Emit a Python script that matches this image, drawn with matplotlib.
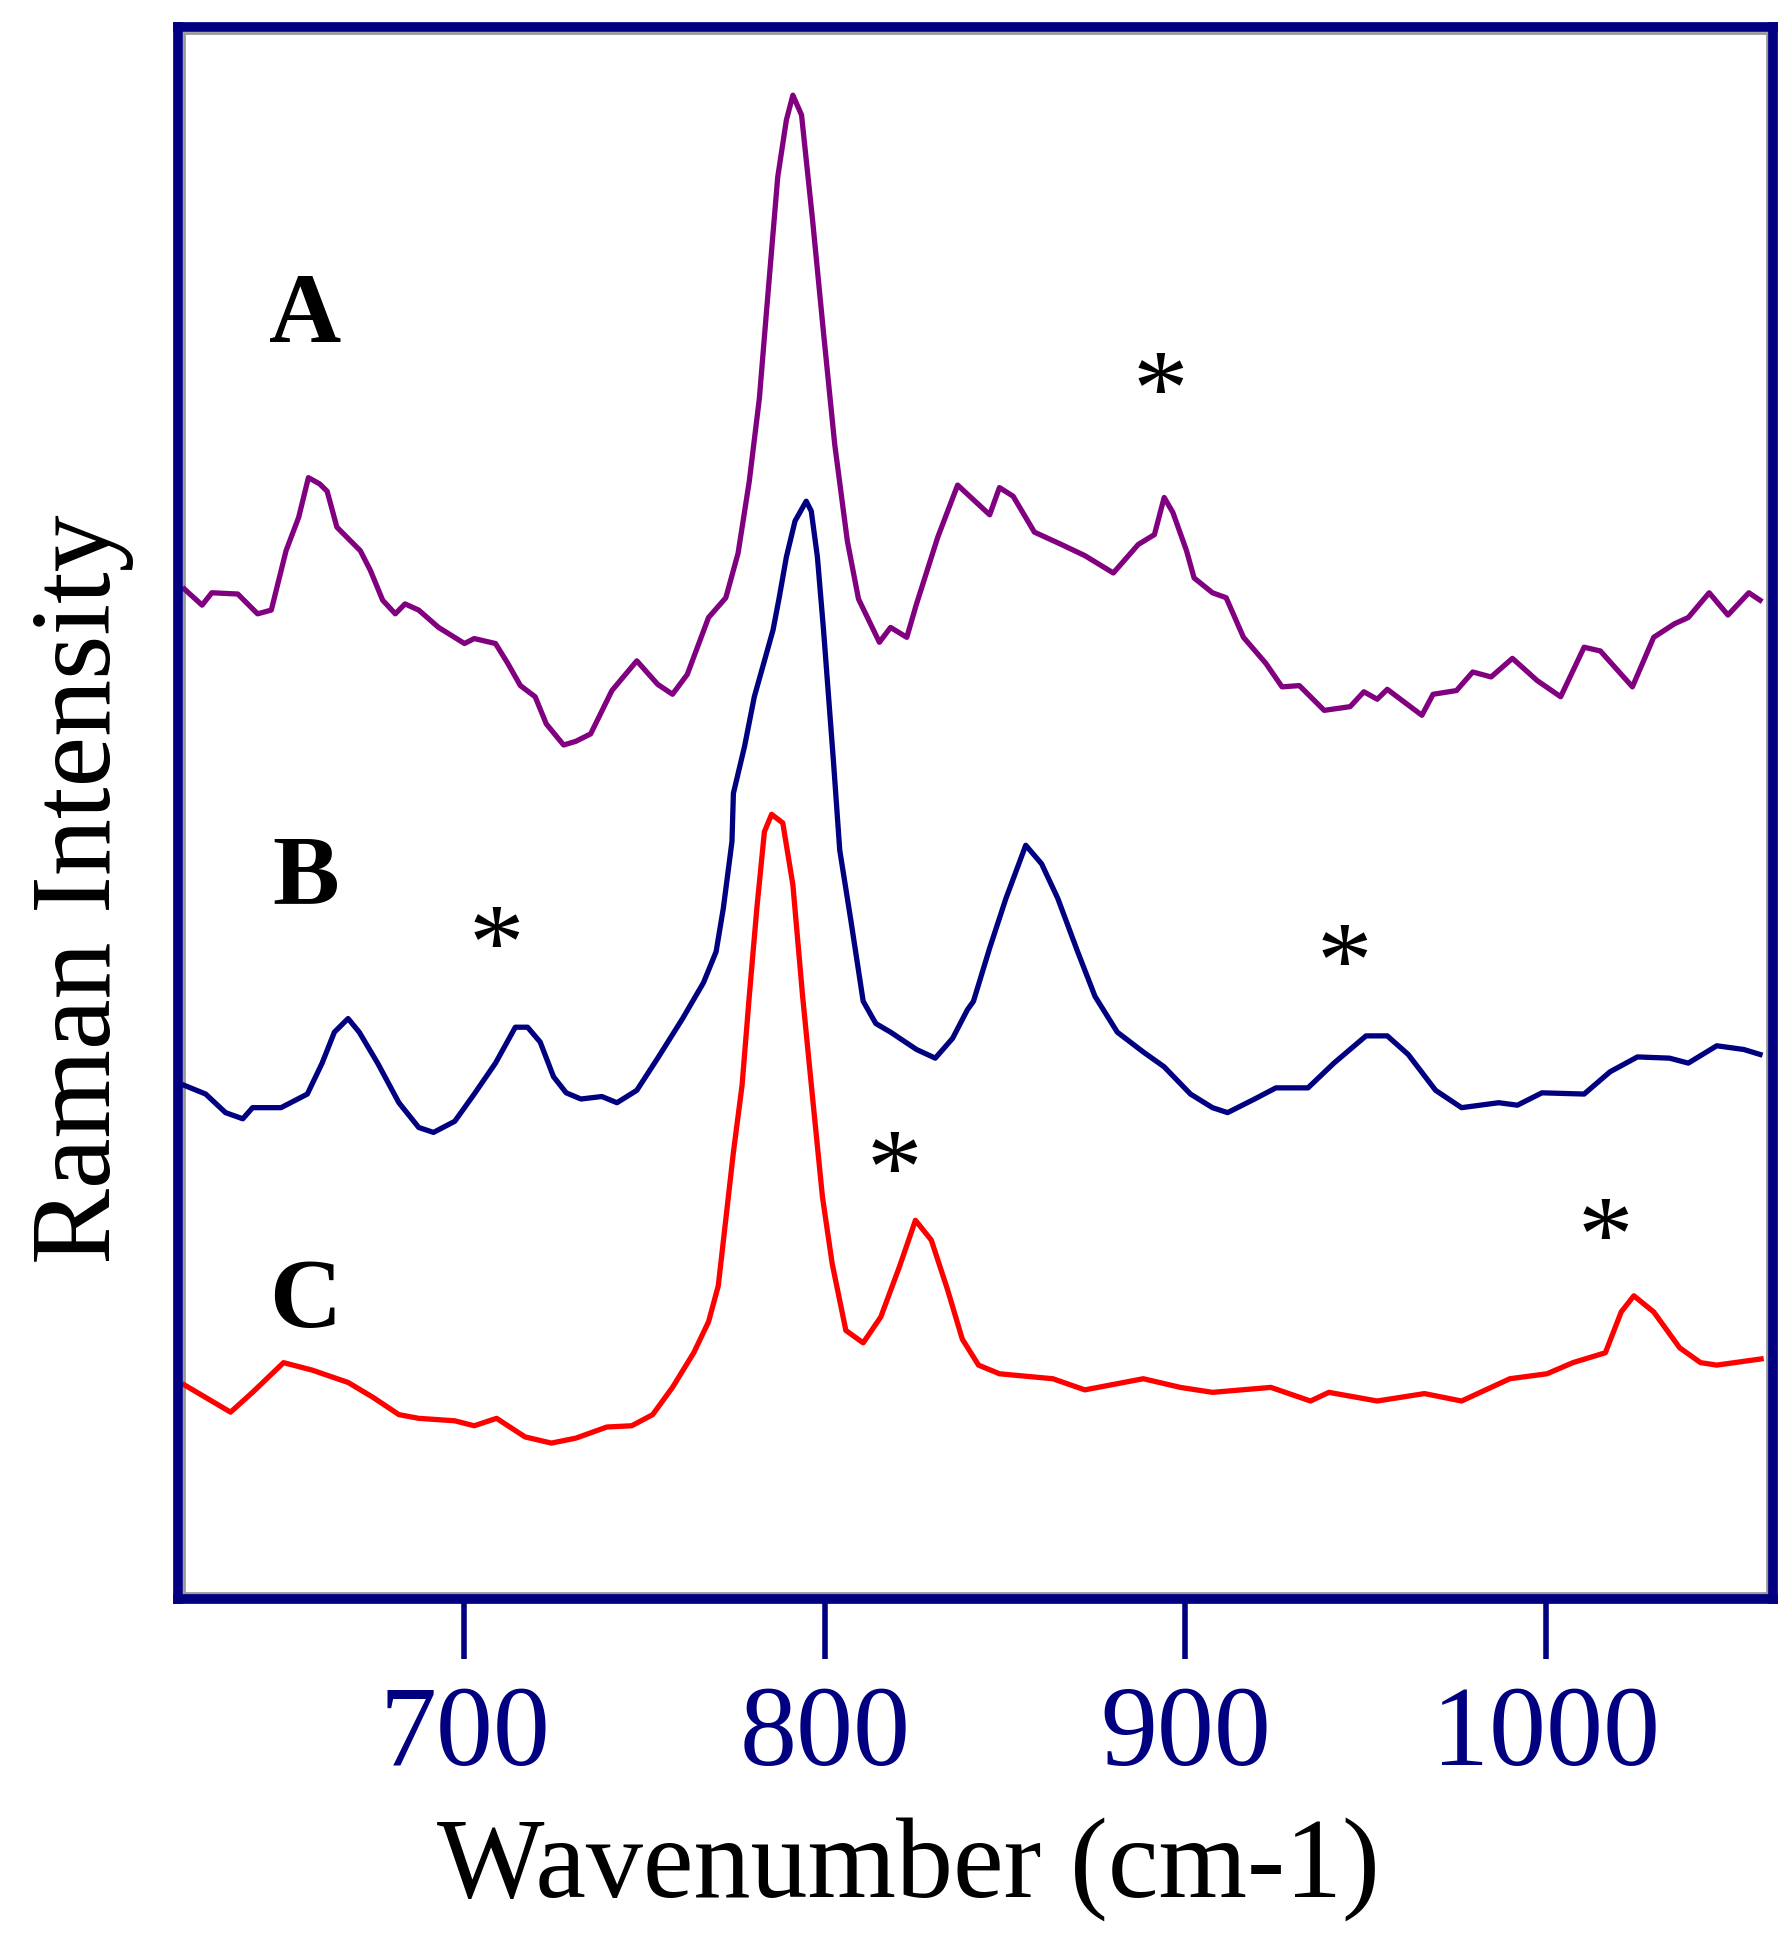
import matplotlib
matplotlib.use('Agg')

import matplotlib.pyplot as plt
from matplotlib.patches import Rectangle

plt.rcParams['font.family'] = ['Liberation Serif', 'DejaVu Serif']

# spectrum A (purple)
wn_a = [622.3, 627.2, 629.9, 637.1, 642.6, 646.4, 650.5, 654.0, 656.7, 659.8,
        661.9, 664.6, 671.1, 673.9, 677.3, 680.8, 683.5, 687.3, 692.8, 700.0,
        702.7, 708.6, 712.0, 715.5, 719.6, 722.7, 727.5, 730.9, 735.0, 740.9,
        747.8, 753.6, 757.7, 761.8, 767.7, 772.5, 775.9, 779.0, 781.8, 783.8,
        786.9, 789.3, 791.1, 793.5, 796.6, 799.6, 802.7, 806.2, 809.3, 815.1,
        818.2, 822.7, 825.4, 831.3, 836.8, 845.7, 848.4, 852.2, 858.1, 865.6,
        872.1, 880.0, 886.9, 891.4, 894.1, 896.5, 900.3, 902.4, 907.5, 911.3,
        916.1, 922.3, 926.8, 931.6, 938.5, 945.7, 949.5, 953.2, 956.0, 965.6,
        968.7, 975.2, 979.7, 984.8, 990.7, 997.6, 1004.1, 1010.6, 1015.1, 1024.0,
        1029.9, 1035.7, 1039.5, 1045.3, 1050.5, 1056.3, 1059.4]
int_a = [816, 803, 813, 812, 796, 799, 847, 874, 906, 901,
         895, 866, 847, 831, 807, 796, 804, 799, 785, 772,
         776, 772, 756, 738, 729, 707, 690, 693, 699, 734,
         758, 739, 731, 747, 793, 809, 845, 903, 970, 1041,
         1149, 1195, 1215, 1199, 1113, 1023, 933, 855, 808, 773,
         785, 777, 804, 858, 900, 876, 898, 891, 862, 852,
         843, 829, 852, 860, 890, 878, 847, 825, 813, 809,
         777, 756, 737, 738, 718, 721, 733, 727, 735, 714,
         731, 734, 749, 745, 760, 742, 729, 769, 766, 737,
         777, 788, 793, 813, 795, 813, 807]

# spectrum B (navy)
wn_b = [622.3, 628.2, 633.7, 638.5, 641.2, 649.1, 656.4, 660.5, 663.9, 667.7,
        670.8, 675.9, 681.8, 687.3, 691.4, 697.3, 702.7, 708.6, 714.1, 717.5,
        721.0, 724.7, 728.2, 732.3, 738.1, 742.3, 747.8, 753.6, 760.5, 766.3,
        769.8, 771.8, 774.2, 774.6, 777.7, 780.4, 783.2, 785.6, 787.3, 789.3,
        791.7, 794.8, 796.2, 797.9, 799.6, 801.0, 802.4, 804.1, 807.2, 810.6,
        814.1, 818.2, 825.4, 830.6, 835.4, 839.5, 841.2, 845.7, 850.2, 855.7,
        860.1, 864.6, 870.1, 874.9, 881.1, 888.3, 894.1, 901.4, 907.5, 911.7,
        919.2, 925.1, 934.0, 941.2, 950.1, 956.0, 961.8, 969.4, 976.6, 986.9,
        992.1, 998.9, 1010.6, 1017.8, 1025.4, 1034.3, 1039.5, 1047.4, 1054.9, 1059.4]
int_b = [415, 408, 393, 388, 397, 397, 408, 433, 458, 469,
         458, 433, 401, 381, 377, 386, 408, 433, 462, 462,
         450, 422, 409, 404, 406, 401, 411, 437, 469, 498,
         523, 558, 612, 651, 689, 729, 758, 783, 809, 842,
         871, 887, 879, 842, 783, 729, 675, 605, 548, 483,
         465, 458, 444, 437, 453, 476, 483, 526, 566, 609,
         594, 566, 523, 487, 458, 442, 430, 408, 397, 393,
         404, 413, 413, 433, 455, 455, 440, 411, 397, 401,
         399, 409, 408, 426, 438, 437, 433, 447, 444, 440]

# spectrum C (red)
wn_c = [622.3, 635.1, 641.2, 649.8, 657.7, 667.7, 674.6, 681.8, 687.3, 697.3,
        702.7, 708.9, 716.8, 724.1, 730.9, 739.5, 746.4, 752.2, 757.7, 763.6,
        767.7, 770.4, 772.5, 774.6, 777.0, 779.0, 781.1, 783.2, 785.2, 788.3,
        791.1, 793.8, 796.6, 799.3, 802.0, 805.8, 810.6, 815.5, 820.6, 825.1,
        829.5, 834.0, 838.1, 842.6, 848.4, 863.2, 872.1, 888.3, 898.6, 907.5,
        923.7, 934.7, 939.8, 953.2, 966.3, 976.6, 990.0, 1000.3, 1007.5, 1016.5,
        1020.9, 1024.4, 1029.9, 1037.1, 1042.9, 1047.4, 1059.7]
int_c = [173, 151, 167, 191, 185, 175, 163, 149, 146, 144,
         140, 146, 131, 126, 130, 139, 140, 149, 171, 199,
         224, 253, 307, 361, 415, 487, 558, 620, 634, 627,
         577, 487, 404, 325, 271, 217, 207, 228, 268, 306,
         290, 250, 210, 189, 182, 178, 169, 178, 171, 167,
         171, 160, 167, 160, 166, 160, 178, 182, 191, 199,
         232, 245, 232, 203, 191, 189, 194]

x_ticks = [700, 800, 900, 1000]
labels = ['A', 'B', 'C']

navy = '#000080'

fig = plt.figure(figsize=(17.9, 19.38), dpi=100)
ax = fig.add_axes([0.0994, 0.1749, 0.8911, 0.8111])

ax.plot(wn_a, int_a, color='#800080', lw=3.8)
ax.plot(wn_b, int_b, color=navy, lw=3.8)
ax.plot(wn_c, int_c, color='#ff0000', lw=3.8)

ax.set_xlim(620.5, 1063)
ax.set_ylim(0, 1270)

ax.set_xticks(x_ticks)
ax.set_yticks([])
ax.tick_params(axis='x', direction='out', length=43, width=4, color=navy,
               labelcolor=navy, labelsize=82, pad=19)
for sp in ax.spines.values():
    sp.set_color(navy)
    sp.set_linewidth(7)

# thin grey line just inside the frame
ax.add_patch(Rectangle((0.004, 0.004), 0.992, 0.992, transform=ax.transAxes,
                       fill=False, ec='#999999', lw=2, zorder=0.5))

ax.set_xlabel('Wavenumber (cm-1)', fontsize=82, color='black')
ax.xaxis.set_label_coords(0.458, -0.139)
ax.set_ylabel('Raman Intensity', fontsize=82, color='black')
ax.yaxis.set_label_coords(-0.0276, 0.4517)

# curve labels
for lab, yb in zip(labels, [0.7996, 0.4427, 0.1730]):
    ax.text(0.080, yb, lab, transform=ax.transAxes, ha='center', va='baseline',
            fontsize=72, fontweight='bold')

# asterisks over the marked bands
for xs, ys in [(0.6157, 0.7468), (0.1994, 0.3944), (0.7310, 0.3830),
               (0.4489, 0.2513), (0.8947, 0.2087)]:
    ax.text(xs, ys, '*', transform=ax.transAxes, ha='center', va='baseline',
            fontsize=80)

fig.savefig('out.png', dpi=100, facecolor='white')
